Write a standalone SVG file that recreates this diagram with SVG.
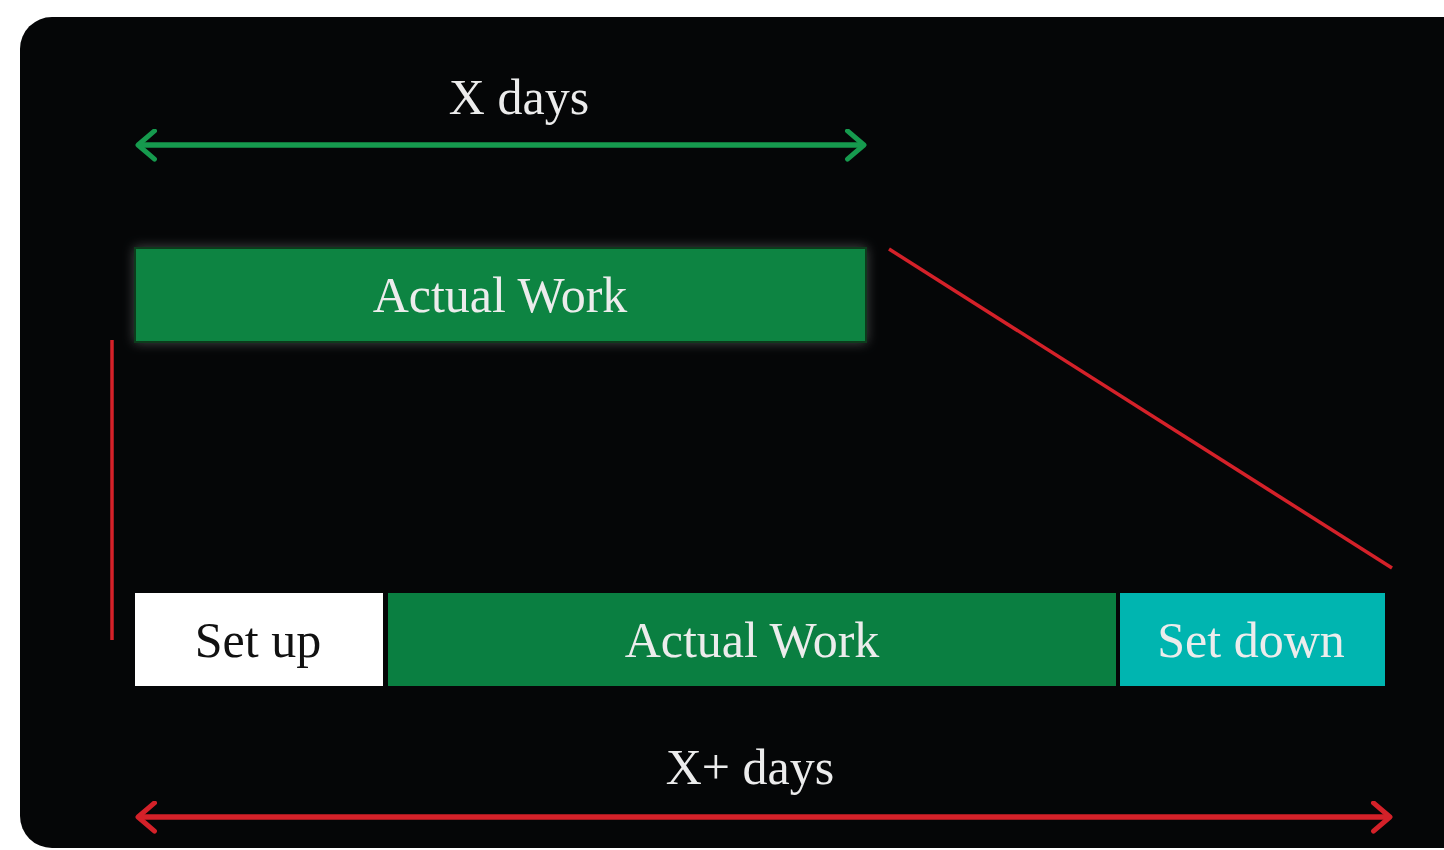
<svg xmlns="http://www.w3.org/2000/svg" width="1444" height="850" viewBox="0 0 1444 850">
<defs>
<style>
.lbl{font-family:"Liberation Serif","DejaVu Serif",serif;font-size:50px;text-anchor:middle}
.light{fill:#ececec}
.dark{fill:#111}
.red{stroke:#d42129;stroke-width:3.5;fill:none}
.glow{filter:url(#glow)}
</style>
<filter id="glow" x="-10%" y="-30%" width="120%" height="160%">
<feGaussianBlur in="SourceAlpha" stdDeviation="6"/>
<feComponentTransfer><feFuncA type="linear" slope="0.35"/></feComponentTransfer>
<feColorMatrix type="matrix" values="0 0 0 0 0.5 0 0 0 0 0.55 0 0 0 0 0.55 0 0 0 1 0"/>
<feMerge><feMergeNode/><feMergeNode in="SourceGraphic"/></feMerge>
</filter>
<marker id="chevG" viewBox="0 0 20 20" refX="17" refY="10" markerWidth="6" markerHeight="6" orient="auto-start-reverse" markerUnits="strokeWidth">
<path d="M7,1.5 L17,10 L7,18.5" fill="none" stroke="#169a4e" stroke-width="3" stroke-linecap="round" stroke-linejoin="round"/>
</marker>
<marker id="chevR" viewBox="0 0 20 20" refX="17" refY="10" markerWidth="6" markerHeight="6" orient="auto-start-reverse" markerUnits="strokeWidth">
<path d="M7,1.5 L17,10 L7,18.5" fill="none" stroke="#d42129" stroke-width="3" stroke-linecap="round" stroke-linejoin="round"/>
</marker>
</defs>
<rect x="0" y="0" width="1444" height="850" fill="#ffffff"/>
<rect x="20" y="17" width="1460" height="831" rx="32" fill="#050607"/>
<g id="connectors">
<line x1="138" y1="145" x2="864" y2="145" stroke="#169a4e" stroke-width="5.5" marker-start="url(#chevG)" marker-end="url(#chevG)"/>
<line x1="138" y1="817" x2="1390" y2="817" stroke="#d42129" stroke-width="5.5" marker-start="url(#chevR)" marker-end="url(#chevR)"/>
<line class="red" x1="112" y1="340" x2="112" y2="640"/>
<line class="red" x1="889" y1="249" x2="1392" y2="568"/>
</g>
<g id="label-x-days"><text class="lbl light" x="519" y="114">X days</text></g>
<g id="node-actual-work-top">
<rect class="glow" x="135" y="248" width="731" height="94" fill="#0a8443" stroke="#0a3a1c" stroke-width="2"/>
<text class="lbl light" x="500" y="312">Actual Work</text>
</g>
<g id="node-setup">
<rect x="135" y="593" width="248" height="93" fill="#ffffff"/>
<text class="lbl dark" x="258" y="657">Set up</text>
</g>
<g id="node-actual-work-bottom">
<rect x="388" y="593" width="728" height="93" fill="#0a7f41"/>
<text class="lbl light" x="752" y="657">Actual Work</text>
</g>
<g id="node-setdown">
<rect x="1120" y="593" width="265" height="93" fill="#00b5b0"/>
<text class="lbl light" x="1251" y="657">Set down</text>
</g>
<g id="label-xplus-days"><text class="lbl light" x="750" y="784">X+ days</text></g>
</svg>
